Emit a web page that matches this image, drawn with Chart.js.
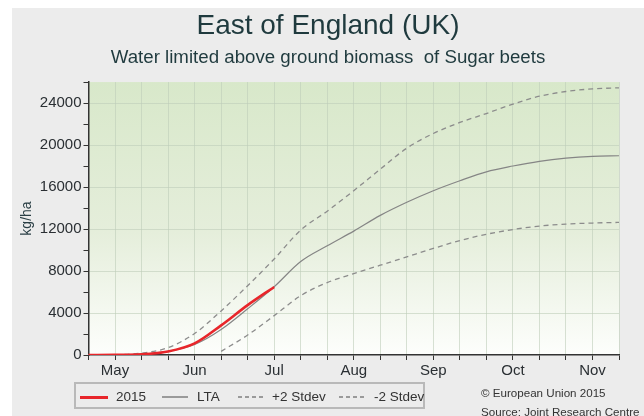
<!DOCTYPE html>
<html><head><meta charset="utf-8">
<script src="https://cdn.jsdelivr.net/npm/chart.js@4/dist/chart.umd.min.js"></script>
<style>
html,body{margin:0;padding:0;background:#fff;}
#wrap{position:relative;width:644px;height:416px;overflow:hidden;font-family:"Liberation Sans",Arial,sans-serif;}
#panel{position:absolute;left:12px;top:8px;width:632px;height:408px;background:#ececec;}
#c{position:absolute;left:0;top:0;}
#legend{position:absolute;left:74px;top:382px;width:347px;height:23px;border:2px solid #b9b9b9;}
.txt{position:absolute;height:16px;line-height:16px;font-size:13.5px;color:#333;white-space:nowrap;}
.sw{position:absolute;height:2px;}
.src{position:absolute;font-size:11.6px;line-height:14px;color:#333;white-space:nowrap;}
</style></head>
<body>
<div id="wrap">
  <div id="panel"></div>
  <canvas id="c" width="644" height="416"></canvas>
  <div id="legend"></div>
  <div class="sw" style="left:80px;top:396px;width:28px;height:2.5px;background:#e8262b;"></div>
  <div class="txt" style="left:116px;top:389px;">2015</div>
  <div class="sw" style="left:162px;top:396px;width:26px;height:1.5px;background:#9a9a9a;"></div>
  <div class="txt" style="left:197px;top:389px;">LTA</div>
  <div class="sw" style="left:238px;top:396px;width:27px;height:1.5px;background:repeating-linear-gradient(to right,#9a9a9a 0 4px,transparent 4px 7px);"></div>
  <div class="txt" style="left:272px;top:389px;">+2 Stdev</div>
  <div class="sw" style="left:339px;top:396px;width:27px;height:1.5px;background:repeating-linear-gradient(to right,#9a9a9a 0 4px,transparent 4px 7px);"></div>
  <div class="txt" style="left:374px;top:389px;">-2 Stdev</div>
  <div class="src" style="left:481px;top:386px;">© European Union 2015</div>
  <div class="src" style="left:481px;top:405px;">Source: Joint Research Centre</div>
</div>
<script>
const dekads = ['Apr 21','May 1','May 11','May 21','Jun 1','Jun 11','Jun 21','Jul 1','Jul 11','Jul 21','Aug 1','Aug 11','Aug 21','Sep 1','Sep 11','Sep 21','Oct 1','Oct 11','Oct 21','Nov 1','Nov 11'];
const xTickLabels = ['', 'May','','','Jun','','','Jul','','','Aug','','','Sep','','','Oct','','','Nov',''];
const yTickLabels = [0,4000,8000,12000,16000,20000,24000];
const y2015 = [0,10,60,330,1100,2820,4750,6480];
const lta = [0,10,80,350,1000,2430,4400,6500,8900,10400,11800,13300,14550,15650,16600,17450,18000,18450,18750,18920,18980];
const plus2 = [0,20,180,700,2050,4200,6600,9150,11900,13700,15650,17700,19700,21100,22150,23000,23900,24650,25100,25350,25450];
const minus2 = [null,null,null,null,null,350,1900,3750,5650,6900,7750,8550,9350,10150,10900,11500,11950,12280,12470,12570,12630];

const FONT = '"Liberation Sans", Arial, sans-serif';
const gridColor = 'rgba(190,205,185,0.6)';

const bgPlugin = {
  id: 'plotBg',
  beforeDraw(chart) {
    const {ctx, chartArea: a} = chart;
    const g = ctx.createLinearGradient(0, a.top, 0, a.bottom);
    g.addColorStop(0, '#d8e8ca');
    g.addColorStop(0.55, '#e5eedb');
    g.addColorStop(1, '#fdfefc');
    ctx.save();
    ctx.fillStyle = g;
    ctx.fillRect(a.left, a.top, a.right - a.left, a.bottom - a.top);
    ctx.restore();
  }
};

new Chart(document.getElementById('c'), {
  type: 'line',
  data: {
    labels: dekads,
    datasets: [
      {label:'2015', data:y2015, borderColor:'#e8262b', borderWidth:2.6, pointRadius:0, cubicInterpolationMode:'monotone', fill:false},
      {label:'LTA', data:lta, borderColor:'#858585', borderWidth:1.2, pointRadius:0, cubicInterpolationMode:'monotone', fill:false},
      {label:'+2 Stdev', data:plus2, borderColor:'#8c8c8c', borderWidth:1.3, borderDash:[5,4], pointRadius:0, cubicInterpolationMode:'monotone', fill:false},
      {label:'-2 Stdev', data:minus2, borderColor:'#8c8c8c', borderWidth:1.3, borderDash:[5,4], pointRadius:0, cubicInterpolationMode:'monotone', fill:false}
    ]
  },
  options: {
    responsive:false, animation:false, devicePixelRatio:1,
    layout:{padding:{left:12,right:0,top:0,bottom:31}},
    plugins:{
      legend:{display:false}, tooltip:{enabled:false},
      title:{display:true, text:'East of England (UK)', color:'#1f3a3e', font:{family:FONT,size:28,weight:'normal'}, padding:{top:9,bottom:0}},
      subtitle:{display:true, text:'Water limited above ground biomass  of Sugar beets', color:'#1f3a3e', font:{family:FONT,size:18.7,weight:'normal'}, padding:{top:4,bottom:13}}
    },
    scales:{
      x:{
        type:'category', offset:false,
        grid:{color:gridColor, tickColor:'#333', tickLength:5, drawOnChartArea:true},
        border:{color:'#333', width:1.5},
        ticks:{autoSkip:false, maxRotation:0, padding:2, color:'#2a2f33', font:{family:FONT,size:15},
          callback:(v,i)=>xTickLabels[i]},
        afterFit:(s)=>{s.height=30;}
      },
      y:{
        min:0, max:26000,
        grid:{color:(c)=> (c.tick && c.tick.value>0 && yTickLabels.includes(c.tick.value)) ? gridColor : 'rgba(0,0,0,0)', tickColor:'#333', tickLength:5},
        border:{color:'#333', width:1.5},
        ticks:{stepSize:2000, autoSkip:false, padding:2, color:'#2a2f33', font:{family:FONT,size:15},
          callback:(v)=> yTickLabels.includes(v) ? String(v) : ''},
        title:{display:true, text:'kg/ha', color:'#2a3f45', font:{family:FONT,size:14}, padding:{top:7,bottom:0}},
        afterFit:(s)=>{s.width=76.5;}
      },
      y2:{
        position:'right', display:true,
        grid:{display:false, drawTicks:false}, border:{display:false},
        ticks:{display:false},
        afterFit:(s)=>{s.width=25;}
      }
    }
  },
  plugins:[bgPlugin]
});
</script>
</body></html>
